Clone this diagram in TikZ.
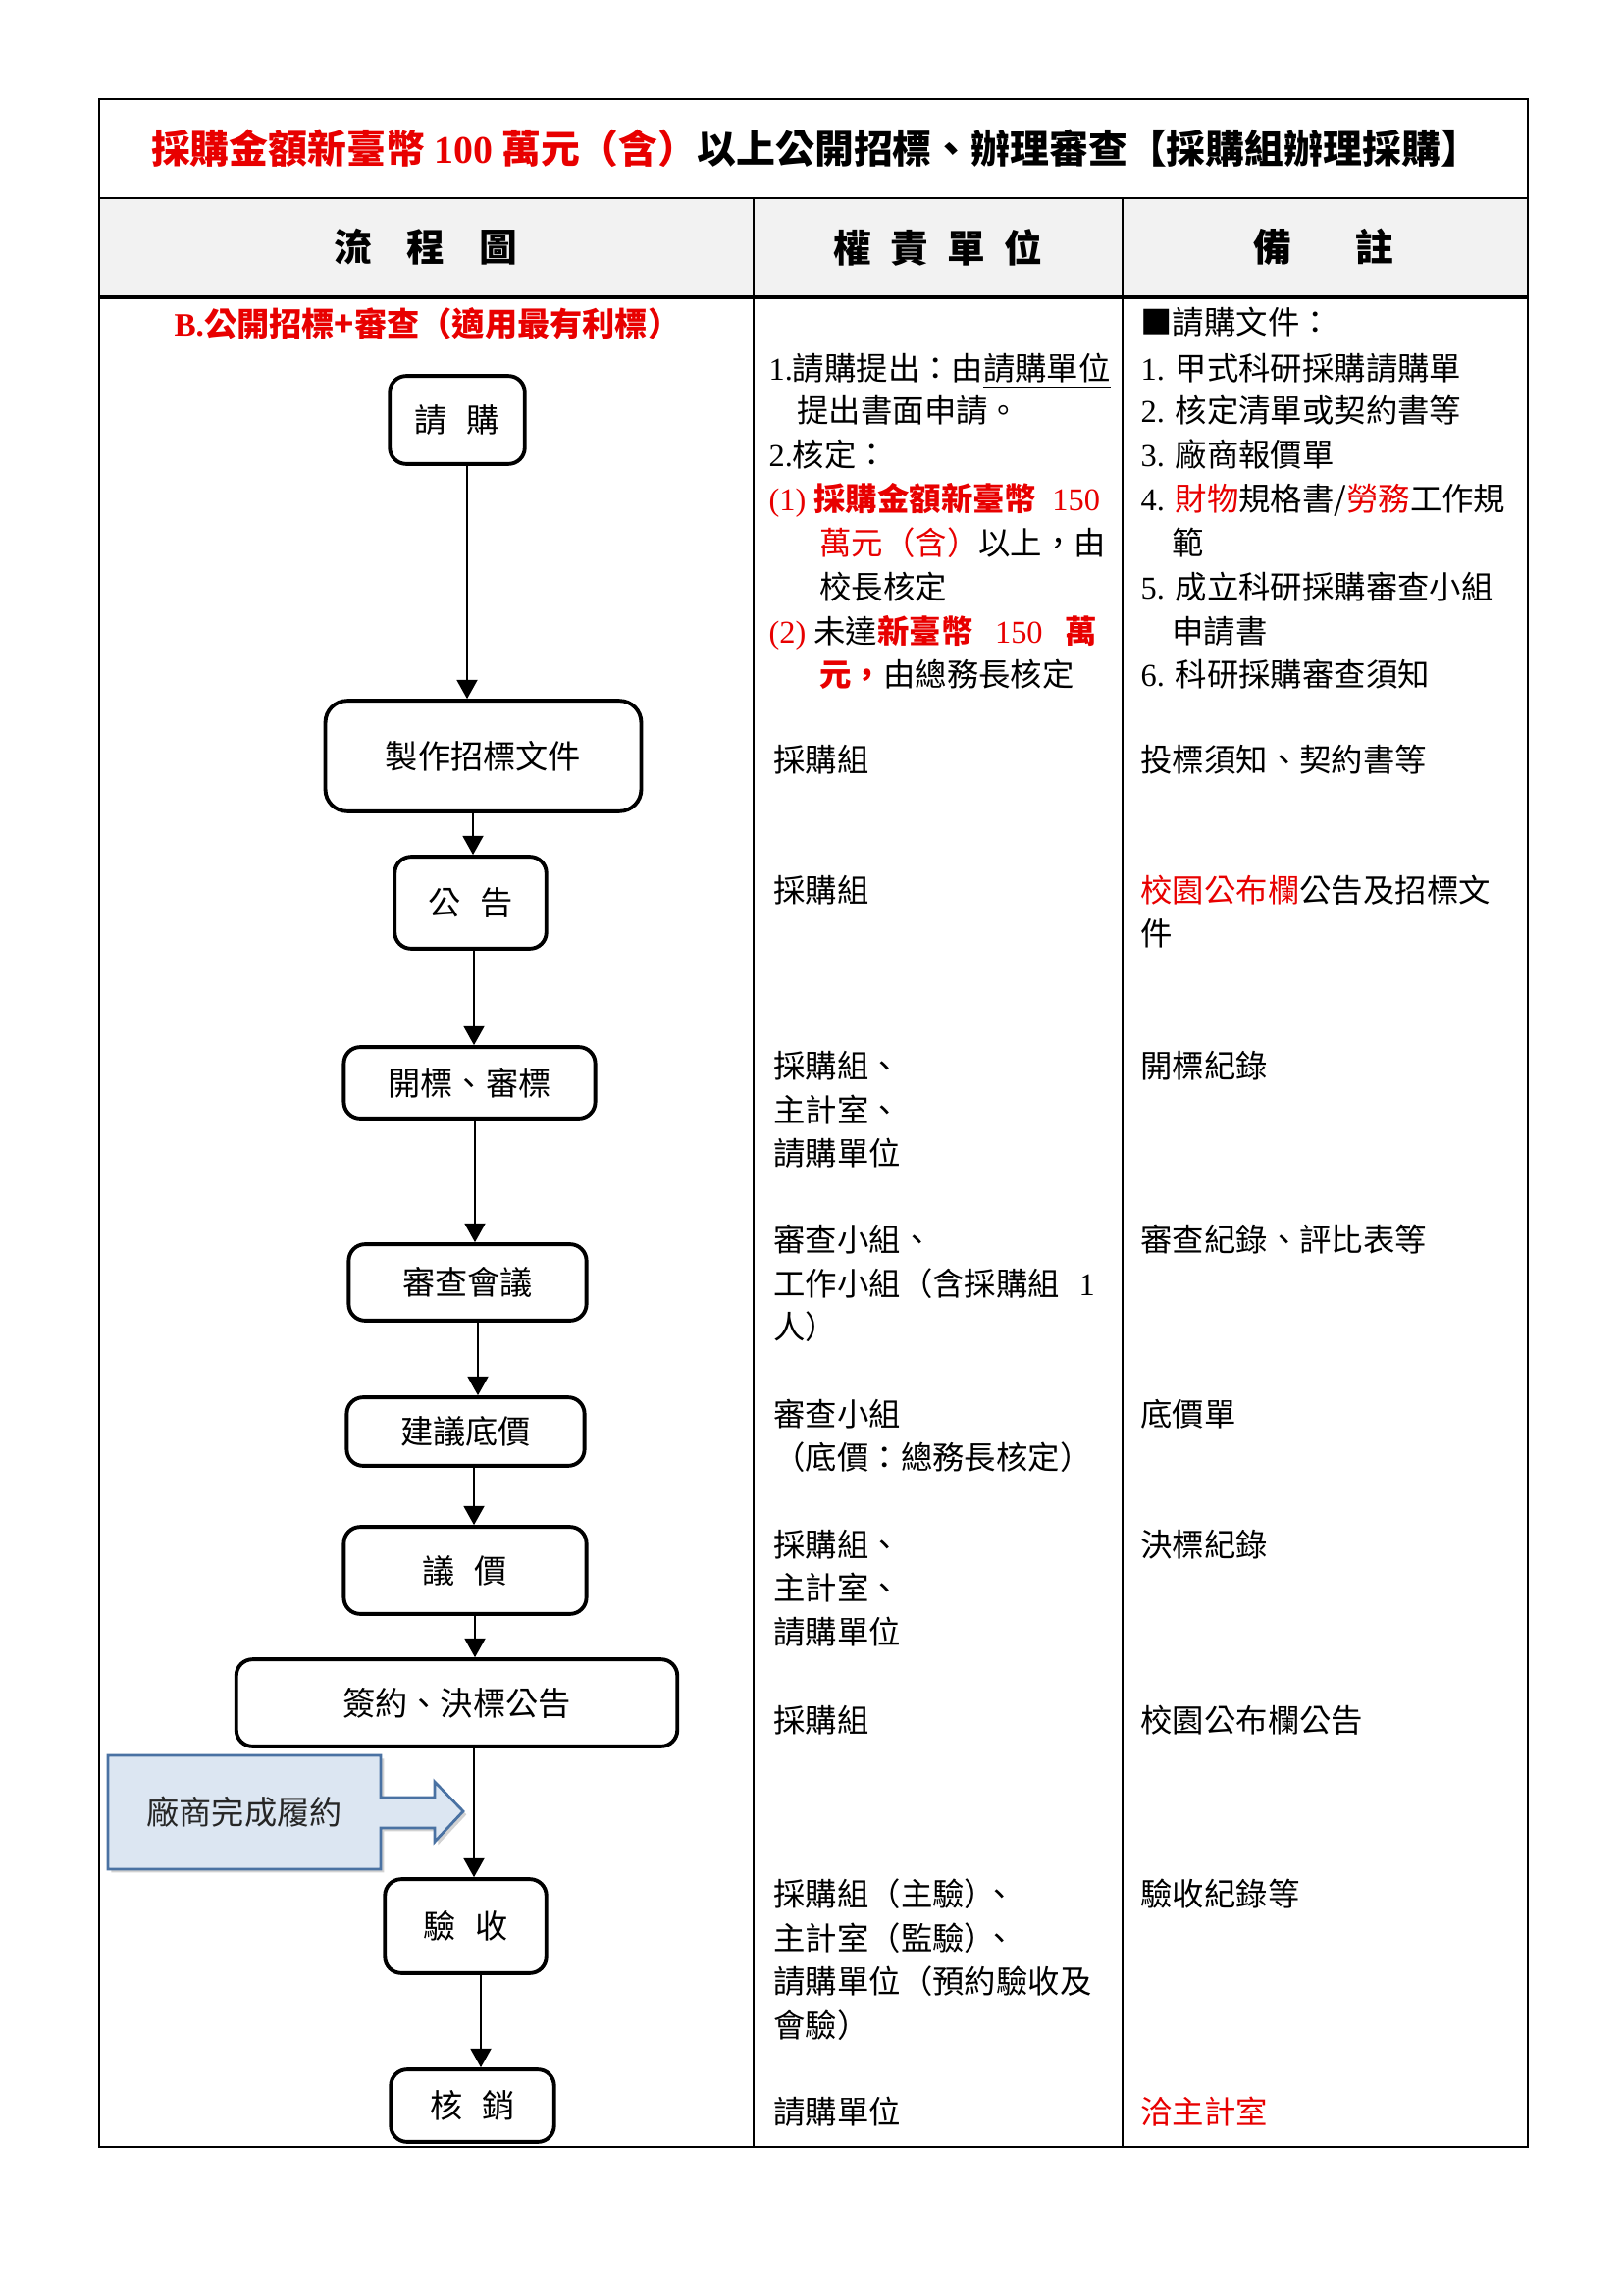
\documentclass[tikz,border=0pt]{standalone}
\usepackage{fontspec}
\setmainfont{Noto Sans CJK TC}
\newfontfamily\tnr{Liberation Serif}
\usetikzlibrary{arrows.meta,shadows}
\definecolor{rd}{RGB}{232,0,0}
\definecolor{hdr}{RGB}{242,242,242}
\definecolor{cfill}{RGB}{220,230,242}
\definecolor{cline}{RGB}{74,114,163}
\newcommand\rd[1]{\textcolor{rd}{#1}}
\newcommand\pbox[7][]{\node[box, #1, minimum width={(#5-#3)*0.36pt}, minimum height={(#6-#4)*0.36pt}] (#2) at ({(#3+#5)/2},{(#4+#6)/2}) {#7};}
\newcommand\tline[4]{\node[tx] (#1) at (#2,#3) {#4};}
\begin{document}
\begin{tikzpicture}[x=0.12696mm,y=-0.12696mm,
  box/.style={draw, line width=1.4pt, rounded corners=6pt, inner sep=0pt, text height=10.56pt, text depth=1.44pt, font=\fontsize{12}{14}\selectfont},
  tx/.style={anchor=west, inner sep=0pt, text height=10.3pt, text depth=1.4pt, font=\fontsize{11.7}{14}\selectfont},
  arr/.style={line width=1pt, -{Triangle[length=7pt,width=7.5pt]}},
  hd/.style={font=\fontsize{14}{16}\selectfont\bfseries, inner sep=0pt},
  tbl/.style={line width=0.8pt}]
\useasboundingbox (0,0) rectangle (1654,2339);
\fill[white] (0,0) rectangle (1654,2339);
% table
\fill[hdr] (101,202) rectangle (1557,303);
\draw[tbl] (101,101) rectangle (1557,2188);
\draw[tbl] (101,202) -- (1557,202);
\draw[line width=1.2pt] (101,303) -- (1557,303);
\draw[tbl] (768,202) -- (768,2188);
\draw[tbl] (1144,202) -- (1144,2188);
% title and headers
\node[hd, font=\fontsize{14.4}{16}\selectfont\bfseries] (title) at (831,151) {\rd{採購金額新臺幣 {\tnr\bfseries 100} 萬元（含）}以上公開招標、辦理審查【採購組辦理採購】};
\node[hd] (h1) at (434,252) {流\hspace{0.9em}程\hspace{0.9em}圖};
\node[hd] (h2) at (956,252) {權\hspace{0.5em}責\hspace{0.5em}單\hspace{0.5em}位};
\node[hd] (h3) at (1349,252) {備\hspace{1.7em}註};
\node[anchor=west, inner sep=0pt, font=\fontsize{12}{14}\selectfont\bfseries, text=rd] (sub) at (177,330) {{\tnr B.}公開招標+審查（適用最有利標）};
% flowchart boxes
\pbox{req}{397}{383}{535}{473}{請\hspace{0.6em}購}
\pbox[rounded corners=8pt]{doc}{331}{714}{654}{827}{製作招標文件}
\pbox{ann}{402}{873}{557}{967}{公\hspace{0.6em}告}
\pbox{open}{350}{1067}{607}{1140}{開標、審標}
\pbox{rev}{355}{1268}{598}{1346}{審查會議}
\pbox{base}{353}{1424}{596}{1494}{建議底價}
\pbox{neg}{350}{1556}{598}{1645}{議\hspace{0.6em}價}
\pbox{sign}{240}{1691}{691}{1780}{簽約、決標公告}
\pbox{acc}{392}{1915}{557}{2011}{驗\hspace{0.6em}收}
\pbox{ver}{398}{2109}{565}{2183}{核\hspace{0.6em}銷}
% arrow x positions
\coordinate (xa) at (476,0);
\coordinate (xb) at (482,0);
\coordinate (xc) at (483,0);
\coordinate (xd) at (484,0);
\coordinate (xe) at (487,0);
\coordinate (xf) at (490,0);
\draw[arr] (req.south -| xa) -- (doc.north -| xa);
\draw[arr] (doc.south -| xb) -- (ann.north -| xb);
\draw[arr] (ann.south -| xc) -- (open.north -| xc);
\draw[arr] (open.south -| xd) -- (rev.north -| xd);
\draw[arr] (rev.south -| xe) -- (base.north -| xe);
\draw[arr] (base.south -| xc) -- (neg.north -| xc);
\draw[arr] (neg.south -| xd) -- (sign.north -| xd);
\draw[arr] (sign.south -| xc) -- (acc.north -| xc);
\draw[arr] (acc.south -| xf) -- (ver.north -| xf);
% vendor callout
\draw[cline, fill=cfill, line width=1pt, drop shadow={shadow xshift=1.2pt, shadow yshift=-1.2pt, opacity=0.35}]
  (110,1789) -- (388,1789) -- (388,1832) -- (443,1832) -- (443,1816) -- (472,1846)
  -- (443,1877) -- (443,1863) -- (388,1863) -- (388,1905) -- (110,1905) -- cycle;
\node[font=\fontsize{12}{14}\selectfont, text=black!85, inner sep=0pt] (vend) at (249,1847) {廠商完成履約};
% middle column
\tline{m1}{783}{375}{{\tnr 1.}請購提出：由\underline{請購單位}}
\tline{m2}{812}{418}{提出書面申請。}
\tline{m3}{783}{463}{{\tnr 2.}核定：}
\tline{m4}{783}{508}{\rd{{\tnr (1) }\textbf{採購金額新臺幣}\hspace{0.5em}{\tnr 150}}}
\tline{m5}{835}{553}{\rd{萬元（含）}以上，由}
\tline{m6}{835}{598}{校長核定}
\tline{m7}{783}{643}{\rd{\tnr (2) }未達\rd{\textbf{新臺幣}}\hspace{0.7em}\rd{\tnr 150}\hspace{0.7em}\rd{\textbf{萬}}}
\tline{m8}{835}{687}{\rd{\textbf{元，}}由總務長核定}
\tline{m9}{788}{774}{採購組}
\tline{m10}{788}{907}{採購組}
\tline{m11}{788}{1086}{採購組、}
\tline{m12}{788}{1131}{主計室、}
\tline{m13}{788}{1175}{請購單位}
\tline{m14}{788}{1263}{審查小組、}
\tline{m15}{788}{1308}{工作小組（含採購組\hspace{0.6em}{\tnr 1}}
\tline{m16}{788}{1352}{人）}
\tline{m17}{788}{1441}{審查小組}
\tline{m18}{788}{1485}{（底價：總務長核定）}
\tline{m19}{788}{1574}{採購組、}
\tline{m20}{788}{1618}{主計室、}
\tline{m21}{788}{1663}{請購單位}
\tline{m22}{788}{1753}{採購組}
\tline{m23}{788}{1930}{採購組（主驗）\hspace{-0.4em}、}
\tline{m24}{788}{1975}{主計室（監驗）\hspace{-0.4em}、}
\tline{m25}{788}{2019}{請購單位（預約驗收及}
\tline{m26}{788}{2064}{會驗）}
\tline{m27}{788}{2152}{請購單位}
% right column
\tline{r1}{1162}{328}{■請購文件：}
\tline{r2}{1162}{375}{{\tnr 1. }甲式科研採購請購單}
\tline{r3}{1162}{418}{{\tnr 2. }核定清單或契約書等}
\tline{r4}{1162}{463}{{\tnr 3. }廠商報價單}
\tline{r5}{1162}{508}{{\tnr 4. }\rd{財物}規格書/\rd{勞務}工作規}
\tline{r6}{1194}{553}{範}
\tline{r7}{1162}{598}{{\tnr 5. }成立科研採購審查小組}
\tline{r8}{1194}{643}{申請書}
\tline{r9}{1162}{687}{{\tnr 6. }科研採購審查須知}
\tline{r10}{1162}{774}{投標須知、契約書等}
\tline{r11}{1162}{907}{\rd{校園公布欄}公告及招標文}
\tline{r12}{1162}{951}{件}
\tline{r13}{1162}{1086}{開標紀錄}
\tline{r14}{1162}{1263}{審查紀錄、評比表等}
\tline{r15}{1162}{1441}{底價單}
\tline{r16}{1162}{1574}{決標紀錄}
\tline{r17}{1162}{1753}{校園公布欄公告}
\tline{r18}{1162}{1930}{驗收紀錄等}
\tline{r19}{1162}{2152}{\rd{洽主計室}}
\end{tikzpicture}
\end{document}
